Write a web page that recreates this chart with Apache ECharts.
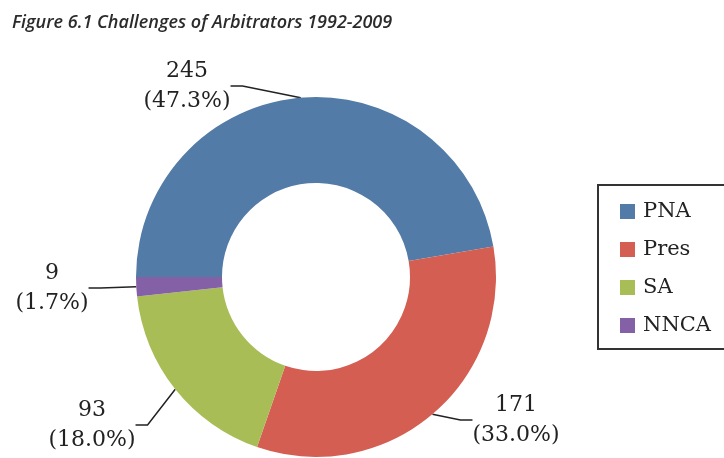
<!DOCTYPE html>
<html>
<head>
<meta charset="utf-8">
<script src="https://cdn.jsdelivr.net/npm/echarts@6/dist/echarts.min.js"></script>
<style>
html, body { margin: 0; padding: 0; background: #fff; }
#main { width: 724px; height: 458px; }
</style>
</head>
<body>
<div id="main"></div>
<script>
// challenge types and counts
var categories = ['PNA', 'Pres', 'SA', 'NNCA'];
var counts = [245, 171, 93, 9];
var colors = ['#537ba8', '#d45e52', '#a9bd57', '#8461a6'];

// where each label block sits (centre, px)
var labelSpots = [[187, 86], [516, 420], [92, 425], [52, 288]];

var total = counts.reduce(function (a, b) { return a + b; }, 0);

var pieData = categories.map(function (name, i) {
    return { name: name, value: counts[i], itemStyle: { color: colors[i] } };
});

var chart = echarts.init(document.getElementById('main'));

var option = {
    animation: false,
    title: {
        text: 'Figure 6.1 Challenges of Arbitrators 1992-2009',
        left: 7,
        top: 9,
        textStyle: {
            fontFamily: 'Open Sans',
            fontStyle: 'italic',
            fontWeight: 600,
            fontSize: 18,
            color: '#2b2b2b'
        }
    },
    legend: {
        orient: 'vertical',
        left: 598,
        top: 185,
        icon: 'rect',
        itemWidth: 15,
        itemHeight: 15,
        itemGap: 17,
        padding: [16, 40, 13, 22],
        borderColor: '#333',
        borderWidth: 2,
        selectedMode: false,
        data: categories,
        textStyle: {
            fontFamily: 'DejaVu Serif',
            fontSize: 21,
            color: '#222',
            padding: [0, 0, 0, 3]
        }
    },
    series: [
        {
            name: 'Challenges',
            type: 'pie',
            center: [316, 277],
            radius: [94, 180],
            startAngle: 180,
            clockwise: true,
            avoidLabelOverlap: false,
            emphasis: { disabled: true },
            label: {
                show: true,
                position: 'outside',
                fontFamily: 'DejaVu Serif',
                fontSize: 22,
                lineHeight: 30,
                color: '#222',
                align: 'center',
                formatter: function (p) {
                    return p.value + '\n(' + (p.value / total * 100).toFixed(1) + '%)';
                }
            },
            labelLine: {
                show: true,
                length: 15,
                length2: 12,
                lineStyle: { color: '#222', width: 1.5 }
            },
            labelLayout: function (params) {
                var p = labelSpots[params.dataIndex];
                return { x: p[0], y: p[1], align: 'center', verticalAlign: 'middle' };
            },
            data: pieData
        }
    ]
};

chart.setOption(option);
</script>
</body>
</html>
